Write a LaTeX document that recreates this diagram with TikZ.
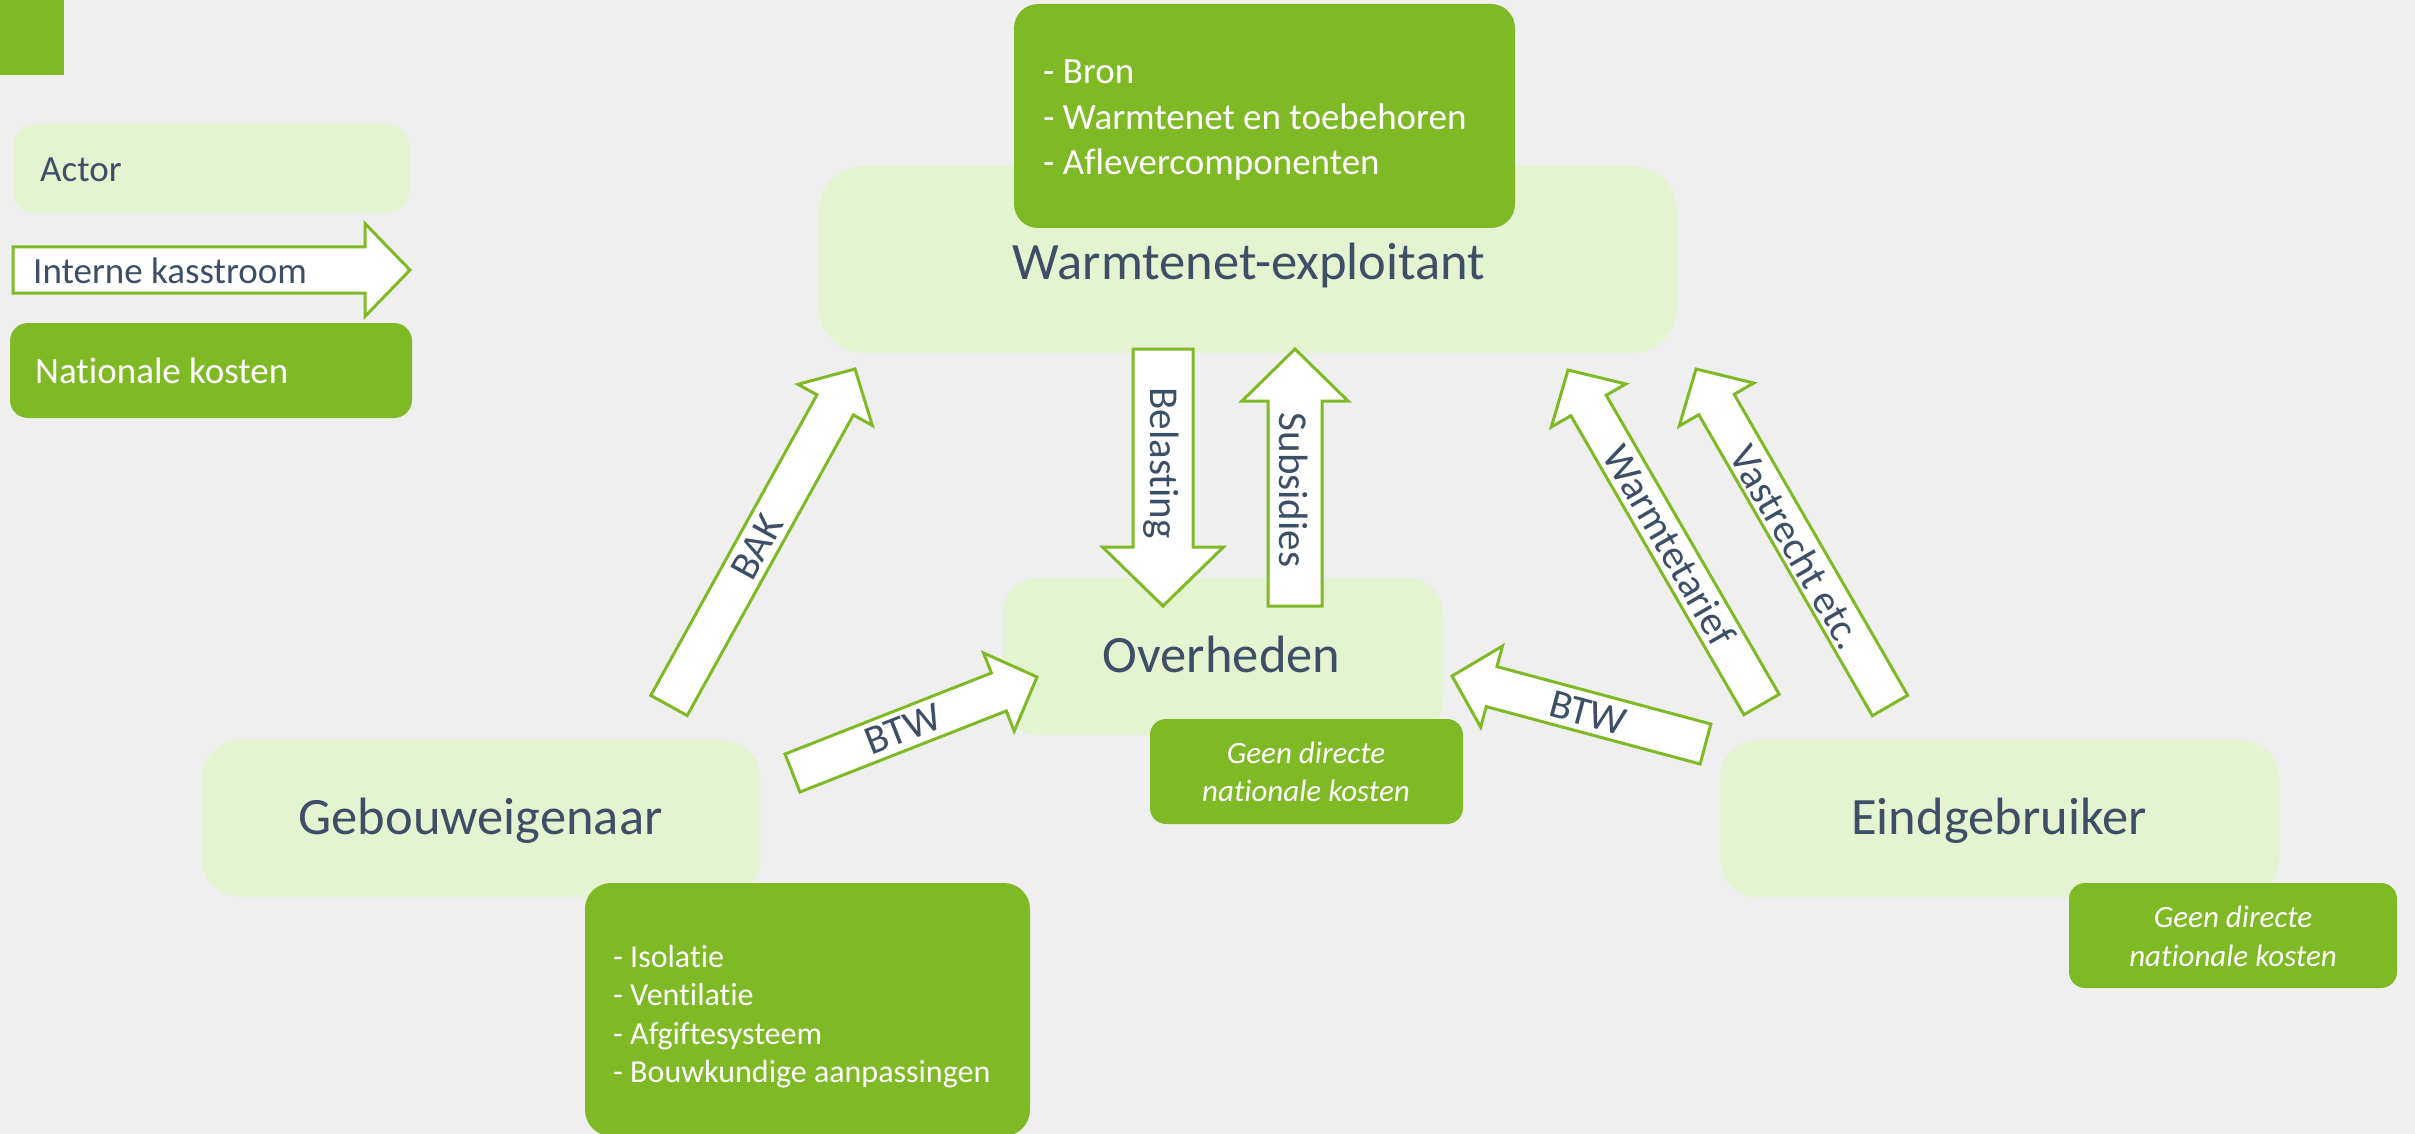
\documentclass[tikz,border=0pt]{standalone}
\usepackage{fontspec}
\setmainfont{Carlito}[Ligatures={NoCommon,NoRequired,NoContextual}]
\usetikzlibrary{calc}
\definecolor{dgreen}{HTML}{80B926}
\definecolor{lgreen}{HTML}{E4F3D0}
\definecolor{txt}{HTML}{3D4F66}
\definecolor{bg}{HTML}{EFEFEF}
% block arrow: #1 tail, #2 tip, #3 half shaft width, #4 half head width, #5 head length
\newcommand\blockarrow[5]{%
  \path ($(#2)!#5!(#1)$) coordinate (ba-neck);
  \draw[flow] ($(#1)!#3!90:(#2)$) -- ($(ba-neck)!#3!90:(#2)$) -- ($(ba-neck)!#4!90:(#2)$)
    -- (#2) -- ($(ba-neck)!#4!-90:(#2)$) -- ($(ba-neck)!#3!-90:(#2)$) -- ($(#1)!#3!-90:(#2)$) -- cycle;}
\begin{document}
\begin{tikzpicture}[x=1pt,y=-1pt,
  actorbox/.style={fill=lgreen, draw=none, rounded corners=38pt, inner sep=0pt, outer sep=0pt},
  costbox/.style={fill=dgreen, draw=none, rounded corners=22pt, inner sep=0pt, outer sep=0pt},
  flow/.style={draw=dgreen, fill=white, line width=3pt, line join=miter},
  bigtxt/.style={text=txt, inner sep=0pt, anchor=base, font=\fontsize{52.5}{63}\selectfont},
  legtxt/.style={inner sep=0pt, anchor=base west, font=\fontsize{37}{44}\selectfont},
  flowtxt/.style={text=txt, inner sep=0pt, font=\fontsize{41}{49}\selectfont},
  listtxt/.style={text=white, inner sep=0pt, anchor=base west},
  ittxt/.style={text=white, inner sep=0pt, anchor=base, font=\fontsize{31}{37}\selectfont\itshape}
]
\fill[bg] (0,0) rectangle (2415,1134);
\useasboundingbox (0,0) rectangle (2415,1134);

% legend
\node[fill=dgreen, inner sep=0pt, minimum width=64pt, minimum height=75pt] (lsq) at (32,37.5) {};
\node[actorbox, rounded corners=22pt, minimum width=396pt, minimum height=89pt] (lact) at (211,168.5) {};
\node[legtxt, text=txt] (lacttxt) at (40,182) {Actor};
\coordinate (lft) at (13,270);
\coordinate (lfh) at (410,270);
\blockarrow{lft}{lfh}{23pt}{46.5pt}{45pt}
\node[legtxt, text=txt] (lflowtxt) at (33,283) {Interne kasstroom};
\node[costbox, rounded corners=18pt, minimum width=402pt, minimum height=95pt] (lnat) at (211,370.5) {};
\node[legtxt, text=white] (lnattxt) at (35,383) {Nationale kosten};

% actors
\node[actorbox, rounded corners=45pt, minimum width=858pt, minimum height=187pt] (wx) at (1248,259.5) {};
\node[actorbox, rounded corners=35pt, minimum width=440pt, minimum height=157pt] (ov) at (1223,656.5) {};
\node[actorbox, minimum width=558pt, minimum height=157pt] (ge) at (481,818.5) {};
\node[actorbox, minimum width=559pt, minimum height=157pt] (eg) at (1999.5,818.5) {};

% cost boxes
\node[costbox, rounded corners=24pt, minimum width=501pt, minimum height=224pt] (wxc) at (1264.5,116) {};
\node[costbox, rounded corners=16pt, minimum width=313pt, minimum height=105pt] (ovc) at (1306.5,771.5) {};
\node[costbox, rounded corners=26pt, minimum width=445pt, minimum height=253pt] (gec) at (807.5,1009.5) {};
\node[costbox, rounded corners=16pt, minimum width=328pt, minimum height=105pt] (egc) at (2233,935.5) {};

% actor labels
\node[bigtxt] (wxt) at (1249,279) {Warmtenet-exploitant};
\node[bigtxt] (ovt) at (1221.5,672) {Overheden};
\node[bigtxt] (get) at (480.5,834) {Gebouweigenaar};
\node[bigtxt] (egt) at (1999,834) {Eindgebruiker};

% cost texts
\begin{scope}[listtxt/.append style={font=\fontsize{37}{44}\selectfont}]
\node[listtxt] (wxc1) at (1043,84) {- Bron};
\node[listtxt] (wxc2) at (1043,129.5) {- Warmtenet en toebehoren};
\node[listtxt] (wxc3) at (1043,175) {- Aflevercomponenten};
\end{scope}
\begin{scope}[listtxt/.append style={font=\fontsize{32}{38}\selectfont}]
\node[listtxt] (gec1) at (613,967) {- Isolatie};
\node[listtxt] (gec2) at (613,1005.5) {- Ventilatie};
\node[listtxt] (gec3) at (613,1044) {- Afgiftesysteem};
\node[listtxt] (gec4) at (613,1082.5) {- Bouwkundige aanpassingen};
\end{scope}
\node[ittxt] (ovc1) at (1306,763) {Geen directe};
\node[ittxt] (ovc2) at (1306,801) {nationale kosten};
\node[ittxt] (egc1) at (2233,927) {Geen directe};
\node[ittxt] (egc2) at (2233,966) {nationale kosten};

% cash flows
\coordinate (bak-t) at (669,705.5);   \coordinate (bak-h) at (855,369);
\coordinate (btwa-t) at (792.5,773);  \coordinate (btwa-h) at (1037,677);
\coordinate (btwb-t) at (1705.5,744); \coordinate (btwb-h) at (1452,676);
\coordinate (wt-t) at (1761.5,704.5); \coordinate (wt-h) at (1568,370);
\coordinate (vr-t) at (1890,705.5);   \coordinate (vr-h) at (1696,369);
\coordinate (bel-t) at (1163,349);    \coordinate (bel-h) at (1163,606);
\coordinate (sub-t) at (1295,606);    \coordinate (sub-h) at (1295,349);

\blockarrow{bak-t}{bak-h}{20.8pt}{42.5pt}{41pt}
\blockarrow{btwa-t}{btwa-h}{20.4pt}{42pt}{41pt}
\blockarrow{btwb-t}{btwb-h}{20.7pt}{42pt}{41pt}
\blockarrow{wt-t}{wt-h}{20.4pt}{43pt}{41pt}
\blockarrow{vr-t}{vr-h}{20.4pt}{43pt}{41pt}
\blockarrow{bel-t}{bel-h}{30pt}{60.5pt}{59pt}
\blockarrow{sub-t}{sub-h}{27pt}{53pt}{52pt}

\node[flowtxt, rotate=61.1] (bakt) at (757,547) {BAK};
\node[flowtxt, rotate=21.4] (btwat) at (903,729) {BTW};
\node[flowtxt, rotate=-15] (btwbt) at (1588,713) {BTW};
\node[flowtxt, rotate=-60] (wtt) at (1670,545) {Warmtetarief};
\node[flowtxt, rotate=-60] (vrt) at (1797,547) {Vastrecht etc.};
\node[flowtxt, rotate=-90] (belt) at (1161,463) {Belasting};
\node[flowtxt, rotate=-90] (subt) at (1294,490) {Subsidies};
\end{tikzpicture}
\end{document}
